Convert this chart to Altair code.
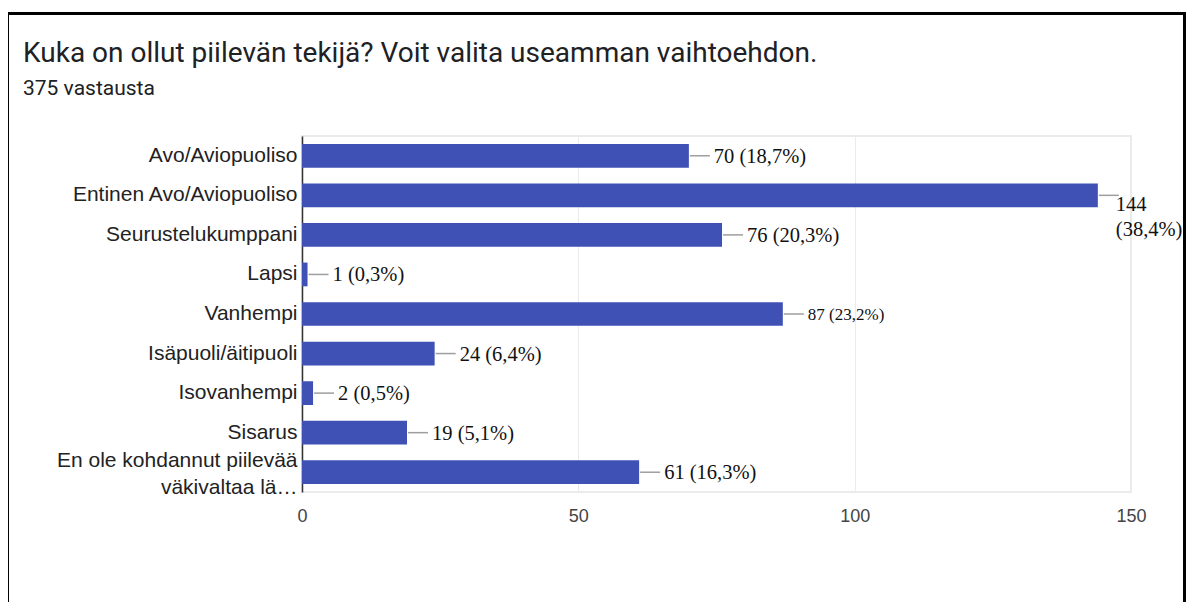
import altair as alt
import pandas as pd

categories = [
    "Avo/Aviopuoliso",
    "Entinen Avo/Aviopuoliso",
    "Seurustelukumppani",
    "Lapsi",
    "Vanhempi",
    "Isäpuoli/äitipuoli",
    "Isovanhempi",
    "Sisarus",
    "En ole kohdannut piilevää\nväkivaltaa lä…",
]
counts = [70, 144, 76, 1, 87, 24, 2, 19, 61]
labels = [
    "70 (18,7%)",
    "144\n(38,4%)",
    "76 (20,3%)",
    "1 (0,3%)",
    "87 (23,2%)",
    "24 (6,4%)",
    "2 (0,5%)",
    "19 (5,1%)",
    "61 (16,3%)",
]
x_ticks = [0, 50, 100, 150]

df = pd.DataFrame({"category": categories, "value": counts, "label": labels})

base = alt.Chart(df)
y_enc = alt.Y(
    "category:N",
    sort=categories,
    scale=alt.Scale(paddingInner=0.4, paddingOuter=0.2),
    axis=alt.Axis(
        title=None,
        labelExpr="split(datum.label, '\\n')",
        labelFont="Liberation Sans",
        labelFontSize=21,
        labelColor="#222222",
        labelLineHeight=27,
        labelOffset={"condition": {"test": "indexof(datum.value, 'En ole') == 0", "value": -11}, "value": 0},
        labelPadding=5,
        labelLimit=400,
        ticks=False,
        domainColor="#333333",
        domainWidth=1.5,
        grid=False,
    ),
)
x_enc = alt.X(
    "value:Q",
    scale=alt.Scale(domain=[0, 150], nice=False),
    axis=alt.Axis(
        title=None,
        values=x_ticks,
        labelFont="Liberation Sans",
        labelFontSize=18,
        labelColor="#444444",
        labelPadding=15,
        labelFlush=False,
        ticks=False,
        domain=False,
        grid=True,
        gridColor="#ebebeb",
        gridWidth=1,
    ),
)

bars = base.mark_bar(color="#3f51b5").encode(x=x_enc, y=y_enc)

leaders = base.mark_rule(color="#9e9e9e", strokeWidth=1.5, xOffset=1, x2Offset=21).encode(
    x="value:Q", x2="value:Q", y=alt.Y("category:N", sort=categories)
)

text_style = dict(align="left", font="Liberation Serif", color="#111111")

labels_main = base.transform_filter(
    "datum.category != 'Vanhempi' && datum.value != 144"
).mark_text(baseline="middle", dx=25, dy=1, fontSize=20.5, **text_style).encode(
    x="value:Q", y=alt.Y("category:N", sort=categories), text="label:N"
)
labels_small = base.transform_filter("datum.category == 'Vanhempi'").mark_text(
    baseline="middle", dx=25, dy=1, fontSize=17, **text_style
).encode(x="value:Q", y=alt.Y("category:N", sort=categories), text="label:N")
labels_wrap = base.transform_filter("datum.value == 144").mark_text(
    baseline="alphabetic", dx=18, dy=16, fontSize=20.5, lineBreak="\n", lineHeight=25, **text_style
).encode(x="value:Q", y=alt.Y("category:N", sort=categories), text="label:N")

frame_data = alt.Data(values=[{"k": 0}])
frame_left = alt.Chart(frame_data).mark_rule(color="#000000", strokeWidth=3).encode(
    x=alt.value(-294.5), y=alt.value(-122.5), y2=alt.value(480)
)
frame_right = alt.Chart(frame_data).mark_rule(color="#000000", strokeWidth=3).encode(
    x=alt.value(882.5), y=alt.value(-122.5), y2=alt.value(480)
)
frame_top = alt.Chart(frame_data).mark_rule(color="#000000", strokeWidth=3).encode(
    x=alt.value(-296), x2=alt.value(884), y=alt.value(-122.5)
)

chart = (
    alt.layer(bars, leaders, labels_main, labels_small, labels_wrap, frame_left, frame_right, frame_top)
    .properties(
        width=829,
        height=356,
        autosize=alt.AutoSizeParams(type="none"),
        padding={"left": 294, "top": 128, "right": 55, "bottom": 110},
        title=alt.TitleParams(
            text="Kuka on ollut piilevän tekijä? Voit valita useamman vaihtoehdon.",
            subtitle="375 vastausta",
            anchor="start",
            frame="group",
            orient="top",
            dx=-279,
            offset=-87,
            font="Roboto",
            fontSize=28,
            fontWeight="normal",
            color="#202124",
            subtitleFont="Roboto",
            subtitleFontSize=21,
            subtitleColor="#202124",
            subtitlePadding=10,
        ),
    )
    .configure_view(stroke="#ebebeb", strokeWidth=2)
)

chart.save("out.html", embed_options={"renderer": "svg", "actions": False})
